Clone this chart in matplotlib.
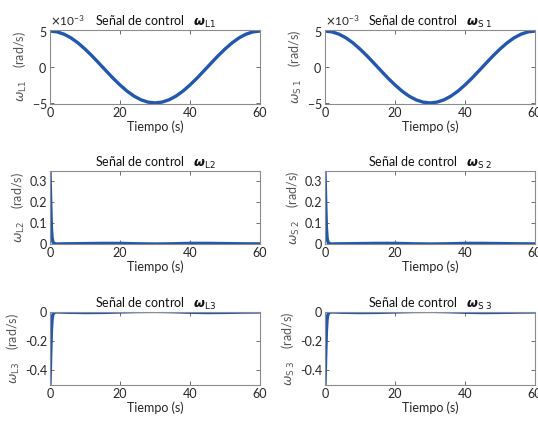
import matplotlib.pyplot as plt
from matplotlib.ticker import ScalarFormatter

# time samples (s)
t_cos = [0, 2, 4, 6, 8, 10, 12, 14, 16, 18, 20, 22, 24, 26, 28, 30,
         32, 34, 36, 38, 40, 42, 44, 46, 48, 50, 52, 54, 56, 58, 60]
# first signal, in units of 1e-3 rad/s
w1 = [5.0, 4.89, 4.57, 4.05, 3.35, 2.5, 1.55, 0.52, -0.52, -1.55, -2.5,
      -3.35, -4.05, -4.57, -4.89, -5.0, -4.89, -4.57, -4.05, -3.35, -2.5,
      -1.55, -0.52, 0.52, 1.55, 2.5, 3.35, 4.05, 4.57, 4.89, 5.0]

t_tr = [0, 0.2, 0.4, 0.6, 0.8, 1.0, 1.3, 1.7, 2.5, 5, 10, 15, 20, 25,
        30, 35, 40, 45, 50, 55, 60]
w2 = [0.35, 0.2, 0.08, 0.03, 0.012, 0.005, 0.002, 0.0, 0.0005, 0.001,
      0.002, 0.003, 0.003, 0.001, 0.0, 0.001, 0.003, 0.003, 0.002, 0.001, 0.0005]
w3 = [-0.5, -0.3, -0.13, -0.05, -0.02, -0.008, -0.003, 0.0, 0.0, -0.002,
      -0.004, -0.003, 0.0, 0.003, 0.004, 0.002, -0.002, -0.004, -0.003, -0.001, 0.0]

names = [("L1", "S\\ 1"), ("L2", "S\\ 2"), ("L3", "S\\ 3")]
ylims = [(-5.15e-3, 5.15e-3), (0, 0.35), (-0.5, 0)]
yticks = [[-5e-3, 0, 5e-3], [0, 0.1, 0.2, 0.3], [-0.4, -0.2, 0]]

plt.rcParams['font.family'] = ['Lato', 'DejaVu Sans']
plt.rcParams['font.size'] = 9
plt.rcParams['mathtext.fontset'] = 'dejavusans'

color = '#2257ad'
fig = plt.figure(figsize=(5.38, 4.25), dpi=100)
W, H = 538, 425
lefts = [50, 325]
rows = [(30, 104), (171, 244), (312, 385)]
width = 210

series = [(t_cos, [v * 1e-3 for v in w1]), (t_tr, w2), (t_tr, w3)]

for r, (top, bot) in enumerate(rows):
    for c, left in enumerate(lefts):
        ax = fig.add_axes([left / W, 1 - bot / H, width / W, (bot - top) / H])
        x, y = series[r]
        ax.plot(x, y, color=color, lw=2.4, solid_capstyle='round')
        ax.set_xlim(0, 60)
        ax.set_ylim(*ylims[r])
        ax.set_xticks([0, 20, 40, 60])
        ax.set_yticks(yticks[r])
        if r == 0:
            fmt = ScalarFormatter(useMathText=True)
            fmt.set_powerlimits((-2, 2))
            ax.yaxis.set_major_formatter(fmt)
            ax.yaxis.get_offset_text().set_color('#555555')
            ax.yaxis.get_offset_text().set_fontsize(8.5)
        else:
            ax.set_yticklabels([f"{v:g}" for v in yticks[r]])
        for s in ax.spines.values():
            s.set_color('#8c8c8c')
            s.set_linewidth(0.8)
        ax.tick_params(direction='in', length=3, width=0.6, color='#555555',
                       top=True, right=True, labelcolor='#262626', pad=2)
        sub = names[r][c]
        ax.set_xlabel("Tiempo (s)", color='#262626', labelpad=1)
        ax.set_ylabel(r"$\omega_{\mathrm{%s}}$    (rad/s)" % sub, color='#555555', labelpad=2)
        ax.set_title(r"Señal de control   $\boldsymbol{\omega}_{\mathrm{%s}}$" % sub,
                     fontsize=9, color='#111111', pad=3)

fig.savefig("out.png", dpi=100)
